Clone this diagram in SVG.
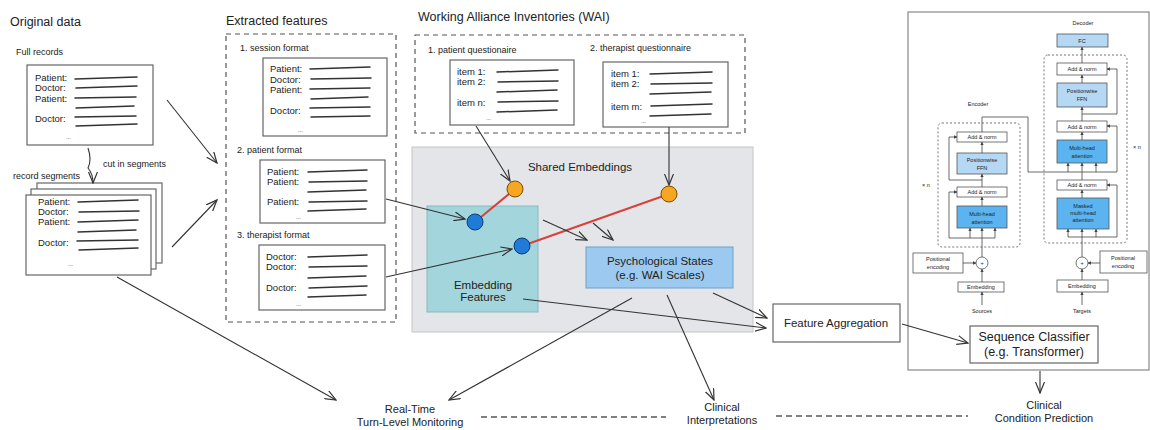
<svg xmlns="http://www.w3.org/2000/svg" width="1150" height="430" viewBox="0 0 1150 430">
<defs>
<marker id="a" viewBox="0 0 12 10" refX="11" refY="5" markerWidth="12" markerHeight="10" markerUnits="userSpaceOnUse" orient="auto"><path d="M0,0.5 L11,5 L0,9.5" fill="none" stroke="#333" stroke-width="1.2"/></marker>
<marker id="s" viewBox="0 0 6 6" refX="5.5" refY="3" markerWidth="3.5" markerHeight="3.5" markerUnits="userSpaceOnUse" orient="auto"><path d="M0,0 L6,3 L0,6 z" fill="#444"/></marker>
<style>
.t{font-family:"Liberation Sans",Arial,sans-serif;fill:#222}
.h{font-size:12.5px}
.sm{font-size:9px}
.rt{font-size:9.5px}
.lb{font-size:11.5px}
.bt{font-size:11px}
.dots{font-size:6px}
.mt{font-size:5.5px;text-anchor:middle}
.c{text-anchor:middle}
.box{fill:#fff;stroke:#666;stroke-width:1.2}
.scr{stroke:#333;stroke-width:1.5;stroke-linecap:round}
.dash{fill:none;stroke:#555;stroke-width:1.2;stroke-dasharray:5 4}
.conn{fill:none;stroke:#333;stroke-width:1.1;marker-end:url(#a)}
.tb{fill:#fff;stroke:#555;stroke-width:0.8}
.lbl{fill:#b5d8f5;stroke:#555;stroke-width:0.8}
.dbl{fill:#5bb4f0;stroke:#555;stroke-width:0.8}
.tl{fill:none;stroke:#444;stroke-width:0.8}
.ta{fill:none;stroke:#444;stroke-width:0.8;marker-end:url(#s)}
.tdash{fill:none;stroke:#777;stroke-width:1;stroke-dasharray:2 2}
.red{stroke:#d9403a;stroke-width:2}
.or{fill:#f5a623;stroke:#7a5000;stroke-width:1}
.bl{fill:#1f7ad8;stroke:#0d3c70;stroke-width:1}
.bdash{fill:none;stroke:#555;stroke-width:1.6;stroke-dasharray:6 4}
</style>
</defs>

<g id="original-data">
<text class="t h" x="10" y="26">Original data</text>
<text class="t sm" x="16" y="55">Full records</text>
</g>

<g id="full-records">
<rect class="box" x="27" y="65" width="126" height="80"/>
<text class="t rt" x="35" y="81">Patient:</text>
<text class="t rt" x="35" y="91">Doctor:</text>
<text class="t rt" x="35" y="102">Patient:</text>
<text class="t rt" x="35" y="122">Doctor:</text>
<line class="scr" x1="75" y1="79" x2="137" y2="77"/>
<line class="scr" x1="76" y1="88" x2="137" y2="86"/>
<line class="scr" x1="75" y1="98" x2="136" y2="97"/>
<line class="scr" x1="76" y1="108" x2="134" y2="106"/>
<line class="scr" x1="75" y1="117" x2="136" y2="116"/>
<line class="scr" x1="76" y1="126" x2="137" y2="124"/>
<text class="t dots" x="66" y="139">...</text>
</g>

<g id="segment-label">
<text class="t sm" x="103" y="167">cut in segments</text>
<text class="t sm" x="13" y="179">record segments</text>
</g>

<g id="record-segments">
<rect class="box" x="37" y="183" width="125" height="80"/>
<rect class="box" x="31" y="189" width="125" height="80"/>
<rect class="box" x="26" y="195" width="125" height="80"/>
<text class="t rt" x="38" y="205">Patient:</text>
<text class="t rt" x="38" y="215">Doctor:</text>
<text class="t rt" x="38" y="225">Patient:</text>
<text class="t rt" x="38" y="246">Doctor:</text>
<line class="scr" x1="78" y1="202" x2="138" y2="200"/>
<line class="scr" x1="79" y1="212" x2="139" y2="211"/>
<line class="scr" x1="78" y1="222" x2="138" y2="220"/>
<line class="scr" x1="78" y1="232" x2="136" y2="230"/>
<line class="scr" x1="77" y1="241" x2="138" y2="240"/>
<line class="scr" x1="79" y1="250" x2="138" y2="248"/>
<text class="t dots" x="68" y="266">...</text>
</g>

<g id="extracted-features">
<text class="t h" x="226" y="25">Extracted features</text>
<rect class="dash" x="226" y="34" width="170" height="288"/>
<text class="t sm" x="240" y="51">1. session format</text>
<text class="t sm" x="237" y="153">2. patient format</text>
<text class="t sm" x="237" y="238">3. therapist format</text>
</g>

<g id="session-format">
<rect class="box" x="263" y="58" width="124" height="78"/>
<text class="t rt" x="270" y="72">Patient:</text>
<text class="t rt" x="270" y="83">Doctor:</text>
<text class="t rt" x="270" y="93">Patient:</text>
<text class="t rt" x="270" y="114">Doctor:</text>
<line class="scr" x1="310" y1="69" x2="370" y2="67"/>
<line class="scr" x1="311" y1="79" x2="371" y2="78"/>
<line class="scr" x1="310" y1="89" x2="370" y2="88"/>
<line class="scr" x1="311" y1="99" x2="368" y2="97"/>
<line class="scr" x1="310" y1="108" x2="370" y2="107"/>
<line class="scr" x1="311" y1="117" x2="370" y2="116"/>
<text class="t dots" x="298" y="132">...</text>
</g>

<g id="patient-format">
<rect class="box" x="260" y="160" width="125" height="63"/>
<text class="t rt" x="267" y="175">Patient:</text>
<text class="t rt" x="267" y="185">Patient:</text>
<text class="t rt" x="267" y="205">Patient:</text>
<line class="scr" x1="308" y1="172" x2="367" y2="170"/>
<line class="scr" x1="309" y1="182" x2="367" y2="181"/>
<line class="scr" x1="308" y1="192" x2="366" y2="190"/>
<line class="scr" x1="309" y1="202" x2="367" y2="201"/>
<line class="scr" x1="308" y1="211" x2="366" y2="209"/>
<text class="t dots" x="296" y="219">...</text>
</g>

<g id="therapist-format">
<rect class="box" x="259" y="245" width="126" height="65"/>
<text class="t rt" x="266" y="260">Doctor:</text>
<text class="t rt" x="266" y="270">Doctor:</text>
<text class="t rt" x="266" y="291">Doctor:</text>
<line class="scr" x1="308" y1="257" x2="367" y2="255"/>
<line class="scr" x1="309" y1="267" x2="367" y2="266"/>
<line class="scr" x1="308" y1="278" x2="366" y2="276"/>
<line class="scr" x1="309" y1="288" x2="367" y2="286"/>
<line class="scr" x1="308" y1="297" x2="366" y2="295"/>
<text class="t dots" x="296" y="306">...</text>
</g>

<g id="wai">
<text class="t h" x="418" y="21">Working Alliance Inventories (WAI)</text>
<rect class="dash" x="415" y="35" width="330" height="98"/>
<text class="t sm" x="428" y="53">1. patient questionaire</text>
<text class="t sm" x="590" y="51">2. therapist questionnaire</text>
</g>

<g id="patient-questionnaire">
<rect class="box" x="450" y="60" width="124" height="65"/>
<text class="t rt" x="457" y="75">item 1:</text>
<text class="t rt" x="457" y="85">item 2:</text>
<text class="t rt" x="457" y="106">item n:</text>
<line class="scr" x1="497" y1="72" x2="558" y2="70"/>
<line class="scr" x1="498" y1="82" x2="558" y2="81"/>
<line class="scr" x1="497" y1="92" x2="557" y2="90"/>
<line class="scr" x1="498" y1="102" x2="558" y2="101"/>
<line class="scr" x1="497" y1="112" x2="557" y2="110"/>
<text class="t dots" x="486" y="120">...</text>
</g>

<g id="therapist-questionnaire">
<rect class="box" x="603" y="62" width="125" height="65"/>
<text class="t rt" x="611" y="77">item 1:</text>
<text class="t rt" x="611" y="87">item 2:</text>
<text class="t rt" x="611" y="110">item m:</text>
<line class="scr" x1="650" y1="74" x2="712" y2="72"/>
<line class="scr" x1="651" y1="84" x2="712" y2="83"/>
<line class="scr" x1="650" y1="94" x2="711" y2="92"/>
<line class="scr" x1="651" y1="106" x2="712" y2="104"/>
<line class="scr" x1="650" y1="116" x2="711" y2="114"/>
<text class="t dots" x="641" y="123">...</text>
</g>

<g id="shared-embeddings">
<rect x="412" y="147" width="341" height="185" fill="#e3e5e8" stroke="#c3c5c8" stroke-width="1"/>
<text class="t lb c" x="580" y="171">Shared Embeddings</text>
</g>

<g id="embedding-features">
<rect x="427" y="206" width="111" height="106" fill="#a3d5dc" stroke="#86b9c2" stroke-width="1"/>
<text class="t lb c" x="483" y="289">Embedding</text>
<text class="t lb c" x="483" y="301">Features</text>
</g>

<g id="psychological-states">
<rect x="586" y="247" width="147" height="41" fill="#9cc9ef" stroke="#6f9fca" stroke-width="1"/>
<text class="t lb c" x="660" y="265">Psychological States</text>
<text class="t lb c" x="660" y="279">(e.g. WAI Scales)</text>
</g>

<g id="feature-aggregation">
<rect class="box" x="773" y="304" width="127" height="38" stroke="#444"/>
<text class="t lb c" x="836" y="327">Feature Aggregation</text>
</g>

<g id="transformer">
<rect x="908" y="12" width="241" height="358" fill="#fff" stroke="#888" stroke-width="1.2"/>
<text class="t mt" x="1083" y="25">Decoder</text>
<text class="t mt" x="978" y="106">Encoder</text>
<rect class="tdash" x="1044" y="55" width="83" height="188" rx="4"/>
<rect class="tdash" x="938" y="123" width="82" height="124" rx="4"/>
<text class="t mt" x="1137" y="149">× n</text>
<text class="t mt" x="926" y="187">× n</text>
<rect class="lbl" x="1057" y="34" width="51" height="13"/>
<text class="t mt" x="1082" y="43">FC</text>
<rect class="tb" x="1057" y="63" width="50" height="12"/>
<text class="t mt" x="1082" y="71">Add &amp; norm</text>
<rect class="lbl" x="1057" y="83" width="50" height="24"/>
<text class="t mt" x="1082" y="93">Positionwise</text>
<text class="t mt" x="1082" y="101">FFN</text>
<rect class="tb" x="1057" y="121" width="50" height="11"/>
<text class="t mt" x="1082" y="128.5">Add &amp; norm</text>
<rect class="dbl" x="1057" y="140" width="50" height="23"/>
<text class="t mt" x="1082" y="150">Multi-head</text>
<text class="t mt" x="1082" y="158">attention</text>
<rect class="tb" x="1057" y="180" width="50" height="10"/>
<text class="t mt" x="1082" y="187">Add &amp; norm</text>
<rect class="dbl" x="1057" y="198" width="52" height="31"/>
<text class="t mt" x="1083" y="208">Masked</text>
<text class="t mt" x="1083" y="215">multi-head</text>
<text class="t mt" x="1083" y="222">attention</text>
<circle cx="1082" cy="263" r="6" fill="#fff" stroke="#555" stroke-width="0.8"/>
<text class="t mt" x="1082" y="265">+</text>
<rect class="tb" x="1100" y="251" width="47" height="22"/>
<text class="t mt" x="1123" y="260">Positional</text>
<text class="t mt" x="1123" y="268">encoding</text>
<rect class="tb" x="1057" y="280" width="51" height="12"/>
<text class="t mt" x="1082" y="288">Embedding</text>
<text class="t mt" x="1082" y="313">Targets</text>
<rect class="tb" x="957" y="132" width="50" height="10"/>
<text class="t mt" x="982" y="139">Add &amp; norm</text>
<rect class="lbl" x="957" y="153" width="50" height="21"/>
<text class="t mt" x="982" y="162">Positionwise</text>
<text class="t mt" x="982" y="170">FFN</text>
<rect class="tb" x="957" y="187" width="50" height="10"/>
<text class="t mt" x="982" y="194">Add &amp; norm</text>
<rect class="dbl" x="957" y="206" width="50" height="22"/>
<text class="t mt" x="982" y="216">Multi-head</text>
<text class="t mt" x="982" y="224">attention</text>
<circle cx="982" cy="263" r="6" fill="#fff" stroke="#555" stroke-width="0.8"/>
<text class="t mt" x="982" y="265">+</text>
<rect class="tb" x="913" y="253" width="50" height="20"/>
<text class="t mt" x="938" y="261">Positional</text>
<text class="t mt" x="938" y="269">encoding</text>
<rect class="tb" x="958" y="282" width="46" height="10"/>
<text class="t mt" x="981" y="289">Embedding</text>
<text class="t mt" x="982" y="313">Sources</text>
<path class="ta" d="M1082,63 V47"/>
<path class="ta" d="M1082,83 V75"/>
<path class="ta" d="M1082,121 V107"/>
<path class="ta" d="M1082,140 V132"/>
<path class="ta" d="M1082,180 V163"/>
<path class="ta" d="M1068,172 V163"/>
<path class="ta" d="M1096,172 V163"/>
<path class="ta" d="M1082,198 V190"/>
<path class="tl" d="M1082,257 V237 M1068,237 H1096"/>
<path class="ta" d="M1068,237 V229"/>
<path class="ta" d="M1082,237 V229"/>
<path class="ta" d="M1096,237 V229"/>
<path class="ta" d="M1082,114 H1117 V69 H1107"/>
<path class="ta" d="M1096,172 H1117 V126 H1107"/>
<path class="ta" d="M1096,237 H1117 V185 H1107"/>
<path class="ta" d="M1100,263 H1088"/>
<path class="ta" d="M1082,280 V269"/>
<path class="ta" d="M1082,305 V292"/>
<path class="tl" d="M982,132 V117 H1028 V172 H1096"/>
<path class="ta" d="M982,153 V142"/>
<path class="ta" d="M982,187 V174"/>
<path class="ta" d="M982,206 V197"/>
<path class="tl" d="M982,257 V238 M970,238 H995"/>
<path class="ta" d="M970,238 V228"/>
<path class="ta" d="M982,238 V228"/>
<path class="ta" d="M995,238 V228"/>
<path class="ta" d="M982,180 H949 V137 H957"/>
<path class="ta" d="M970,238 H949 V192 H957"/>
<path class="ta" d="M963,263 H976"/>
<path class="ta" d="M982,282 V269"/>
<path class="ta" d="M982,305 V292"/>
</g>

<g id="sequence-classifier">
<rect class="box" x="970" y="326" width="128" height="37" stroke="#444"/>
<text class="t h c" x="1034" y="341">Sequence Classifier</text>
<text class="t h c" x="1034" y="356">(e.g. Transformer)</text>
</g>

<g id="outputs">
<text class="t bt c" x="410" y="413">Real-Time</text>
<text class="t bt c" x="410" y="426">Turn-Level Monitoring</text>
<text class="t bt c" x="722" y="411">Clinical</text>
<text class="t bt c" x="722" y="424">Interpretations</text>
<text class="t bt c" x="1044" y="409">Clinical</text>
<text class="t bt c" x="1044" y="422">Condition Prediction</text>
</g>

<g id="connectors">
<path class="conn" d="M88,148 Q92,160 88,168 Q93,174 93,183"/>
<path class="conn" d="M167,100 L217,163"/>
<path class="conn" d="M172,247 L217,200"/>
<path class="conn" d="M117,277 L336,400"/>
<path class="conn" d="M386,199 L465,219"/>
<path class="conn" d="M386,277 L512,249"/>
<path class="conn" d="M476,126 L510,181"/>
<path class="conn" d="M669,127 L669,185"/>
<line class="red" x1="475" y1="222" x2="515" y2="189"/>
<line class="red" x1="522" y1="246" x2="669" y2="194"/>
<circle class="or" cx="515" cy="189" r="8"/>
<circle class="or" cx="669" cy="194" r="8"/>
<circle class="bl" cx="475" cy="222" r="8"/>
<circle class="bl" cx="522" cy="246" r="8"/>
<path class="conn" d="M543,220 L587,240"/>
<path class="conn" d="M593,223 L613,240"/>
<path class="conn" d="M523,299 L766,328"/>
<path class="conn" d="M713,293 L767,318"/>
<path class="conn" d="M632,298 L449,400"/>
<path class="conn" d="M667,295 L714,400"/>
<path class="conn" d="M902,324 L968,343"/>
<path class="conn" d="M1040,371 L1040,393"/>
<line class="bdash" x1="481" y1="417" x2="666" y2="417"/>
<line class="bdash" x1="776" y1="416" x2="968" y2="416"/>
</g>
</svg>
